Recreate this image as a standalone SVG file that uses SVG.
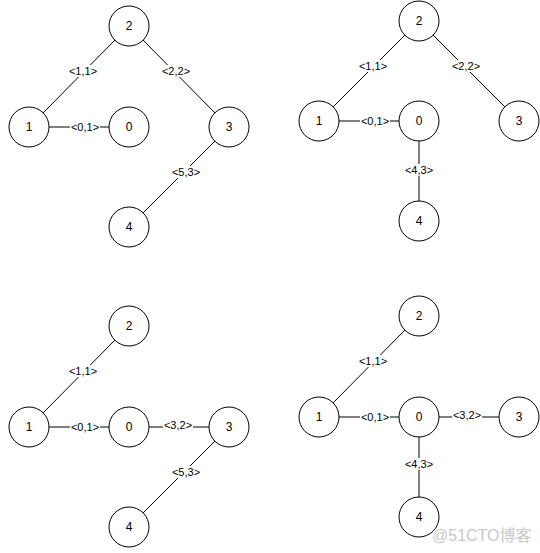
<svg xmlns="http://www.w3.org/2000/svg" width="540" height="553" viewBox="0 0 540 553">
<style>
.n circle{fill:#fff;stroke:#000;stroke-width:1}
.n text{font-family:"Liberation Sans",Arial,sans-serif;font-size:12px;fill:#000;text-anchor:middle;dominant-baseline:central}
.e line{stroke:#000;stroke-width:1}
.e rect{fill:#fff}
.e text{font-family:"Liberation Sans",Arial,sans-serif;font-size:11px;fill:#000;text-anchor:middle;dominant-baseline:central}
.wm{font-family:"Liberation Sans","Noto Sans CJK SC",sans-serif;font-size:16px;fill:#c8c8c8}
</style>
<rect width="540" height="553" fill="#fff"/>
<!-- Connectors -->
<g id="connectors" class="e">
  <!-- Q1 -->
  <line x1="115" y1="40" x2="43" y2="113"/>
  <line x1="143" y1="40" x2="215" y2="113"/>
  <line x1="49" y1="127" x2="109" y2="127"/>
  <line x1="215" y1="141" x2="143" y2="213"/>
  <!-- Q2 -->
  <line x1="405" y1="35" x2="333" y2="107"/>
  <line x1="433" y1="35" x2="505" y2="107"/>
  <line x1="339" y1="121" x2="399" y2="121"/>
  <line x1="419" y1="141" x2="419" y2="201"/>
  <!-- Q3 -->
  <line x1="115" y1="340" x2="43" y2="413"/>
  <line x1="49" y1="427" x2="109" y2="427"/>
  <line x1="149" y1="427" x2="209" y2="427"/>
  <line x1="215" y1="441" x2="143" y2="513"/>
  <!-- Q4 -->
  <line x1="405" y1="330" x2="333" y2="403"/>
  <line x1="339" y1="417" x2="399" y2="417"/>
  <line x1="439" y1="417" x2="499" y2="417"/>
  <line x1="419" y1="437" x2="419" y2="497"/>
  <!-- labels -->
  <rect x="68" y="65" width="30" height="12"/><text x="83" y="71">&lt;1,1&gt;</text>
  <rect x="161" y="65" width="30" height="12"/><text x="176" y="71">&lt;2,2&gt;</text>
  <rect x="70" y="121" width="30" height="12"/><text x="85" y="127">&lt;0,1&gt;</text>
  <rect x="171" y="166" width="30" height="12"/><text x="186" y="172">&lt;5,3&gt;</text>

  <rect x="358" y="60" width="30" height="12"/><text x="373" y="66">&lt;1,1&gt;</text>
  <rect x="451" y="60" width="30" height="12"/><text x="466" y="66">&lt;2,2&gt;</text>
  <rect x="360" y="115" width="30" height="12"/><text x="375" y="121">&lt;0,1&gt;</text>
  <rect x="404" y="164" width="30" height="12"/><text x="419" y="170">&lt;4,3&gt;</text>

  <rect x="68" y="365" width="30" height="12"/><text x="83" y="371">&lt;1,1&gt;</text>
  <rect x="70" y="421" width="30" height="12"/><text x="85" y="427">&lt;0,1&gt;</text>
  <rect x="163" y="419" width="30" height="12"/><text x="178" y="425">&lt;3,2&gt;</text>
  <rect x="171" y="466" width="30" height="12"/><text x="186" y="472">&lt;5,3&gt;</text>

  <rect x="358" y="355" width="30" height="12"/><text x="373" y="361">&lt;1,1&gt;</text>
  <rect x="360" y="411" width="30" height="12"/><text x="375" y="417">&lt;0,1&gt;</text>
  <rect x="452" y="409" width="30" height="12"/><text x="467" y="415">&lt;3,2&gt;</text>
  <rect x="404" y="458" width="30" height="12"/><text x="419" y="464">&lt;4,3&gt;</text>
</g>
<!-- Nodes Q1 -->
<g id="a2" class="n"><circle cx="129" cy="26" r="20"/><text x="129" y="26">2</text></g>
<g id="a1" class="n"><circle cx="29" cy="127" r="20"/><text x="29" y="127">1</text></g>
<g id="a0" class="n"><circle cx="129" cy="127" r="20"/><text x="129" y="127">0</text></g>
<g id="a3" class="n"><circle cx="229" cy="127" r="20"/><text x="229" y="127">3</text></g>
<g id="a4" class="n"><circle cx="129" cy="227" r="20"/><text x="129" y="227">4</text></g>
<!-- Nodes Q2 -->
<g id="b2" class="n"><circle cx="419" cy="21" r="20"/><text x="419" y="21">2</text></g>
<g id="b1" class="n"><circle cx="319" cy="121" r="20"/><text x="319" y="121">1</text></g>
<g id="b0" class="n"><circle cx="419" cy="121" r="20"/><text x="419" y="121">0</text></g>
<g id="b3" class="n"><circle cx="519" cy="121" r="20"/><text x="519" y="121">3</text></g>
<g id="b4" class="n"><circle cx="419" cy="221" r="20"/><text x="419" y="221">4</text></g>
<!-- Nodes Q3 -->
<g id="c2" class="n"><circle cx="129" cy="326" r="20"/><text x="129" y="326">2</text></g>
<g id="c1" class="n"><circle cx="29" cy="427" r="20"/><text x="29" y="427">1</text></g>
<g id="c0" class="n"><circle cx="129" cy="427" r="20"/><text x="129" y="427">0</text></g>
<g id="c3" class="n"><circle cx="229" cy="427" r="20"/><text x="229" y="427">3</text></g>
<g id="c4" class="n"><circle cx="129" cy="527" r="20"/><text x="129" y="527">4</text></g>
<!-- Nodes Q4 -->
<g id="d2" class="n"><circle cx="419" cy="316" r="20"/><text x="419" y="316">2</text></g>
<g id="d1" class="n"><circle cx="319" cy="417" r="20"/><text x="319" y="417">1</text></g>
<g id="d0" class="n"><circle cx="419" cy="417" r="20"/><text x="419" y="417">0</text></g>
<g id="d3" class="n"><circle cx="519" cy="417" r="20"/><text x="519" y="417">3</text></g>
<g id="d4" class="n"><circle cx="419" cy="517" r="20"/><text x="419" y="517">4</text></g>
<text class="wm" x="432" y="541">@51CTO博客</text>
</svg>
